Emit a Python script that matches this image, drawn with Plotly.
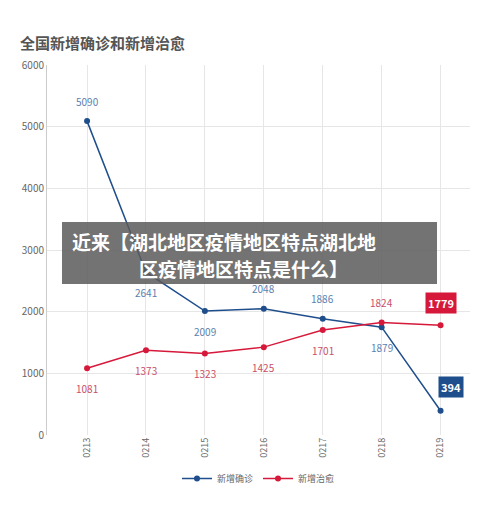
import plotly.graph_objects as go

dates = ["0213", "0214", "0215", "0216", "0217", "0218", "0219"]
confirmed = [5090, 2641, 2009, 2048, 1886, 1749, 394]
confirmed_labels = ["5090", "2641", "2009", "2048", "1886", "1879", "394"]
cured = [1081, 1373, 1323, 1425, 1701, 1824, 1779]
cured_labels = ["1081", "1373", "1323", "1425", "1701", "1824", "1779"]

blue = "#1f4e8c"
red = "#d6193a"
x = list(range(len(dates)))

fig = go.Figure()
fig.add_trace(go.Scatter(x=x, y=confirmed, name="新增确诊", mode="lines+markers",
                         line=dict(color=blue, width=1.5), marker=dict(size=6, color=blue)))
fig.add_trace(go.Scatter(x=x, y=cured, name="新增治愈", mode="lines+markers",
                         line=dict(color=red, width=1.5), marker=dict(size=6, color=red)))

bpos = ["above", "below", "below", "above", "above", "below", None]
rpos = ["below", "below", "below", "below", "below", "above", None]
for i in range(len(dates)):
    if bpos[i]:
        fig.add_annotation(x=i, y=confirmed[i], text=confirmed_labels[i], showarrow=False,
                           yshift=20 if bpos[i] == "above" else -20,
                           font=dict(size=10, color="#5b7fae"))
    if rpos[i]:
        fig.add_annotation(x=i, y=cured[i], text=cured_labels[i], showarrow=False,
                           yshift=20 if rpos[i] == "above" else -20,
                           font=dict(size=10, color="#c8506a"))
fig.add_annotation(x=6, y=cured[6], text="<b>" + cured_labels[6] + "</b>", showarrow=False, yshift=22,
                   bgcolor=red, font=dict(size=11, color="white"), borderpad=2)
fig.add_annotation(x=6, y=confirmed[6], text="<b>" + confirmed_labels[6] + "</b>", showarrow=False,
                   yshift=24, xshift=10, bgcolor=blue, font=dict(size=11, color="white"), borderpad=2)

def px(v):
    return (v - 47) / 423

def py(v):
    return (435 - v) / 370

fig.add_shape(type="rect", xref="paper", yref="paper", x0=px(62), x1=px(437),
              y0=py(284), y1=py(222), fillcolor="rgba(90,90,90,0.85)", line_width=0, layer="above")
fig.add_annotation(xref="paper", yref="paper", x=px(70), y=py(241), xanchor="left",
                   text="<b>近来【湖北地区疫情地区特点湖北地</b>", showarrow=False,
                   font=dict(size=19, color="white", family="Noto Sans CJK SC"))
fig.add_annotation(xref="paper", yref="paper", x=px(243), y=py(268),
                   text="<b>区疫情地区特点是什么】</b>", showarrow=False,
                   font=dict(size=19, color="white", family="Noto Sans CJK SC"))

fig.add_annotation(xref="paper", yref="paper", x=px(18), y=py(30), xanchor="left",
                   text="<b>全国新增确诊和新增治愈</b>", showarrow=False,
                   font=dict(size=15, color="#555", family="Noto Sans CJK SC"))

fig.update_layout(
    width=500, height=507, margin=dict(l=39, r=38, t=57, b=80, autoexpand=False),
    paper_bgcolor="white", plot_bgcolor="white",
    font=dict(family="Noto Sans CJK SC", color="#666", size=10),
    legend=dict(orientation="h", x=0.5, xanchor="center", y=py(464), yanchor="top", font=dict(size=9)),
    xaxis=dict(tickvals=x, ticktext=dates, range=[-0.68, 6.5], tickangle=-90, showgrid=True,
               gridcolor="#e6e6e6", zeroline=False, showline=False, tickfont=dict(size=9)),
    yaxis=dict(range=[0, 6000], dtick=1000, gridcolor="#e6e6e6", zeroline=False, showline=True,
               linecolor="#ccc", tickfont=dict(size=10)),
)
fig.write_html("out.html")
